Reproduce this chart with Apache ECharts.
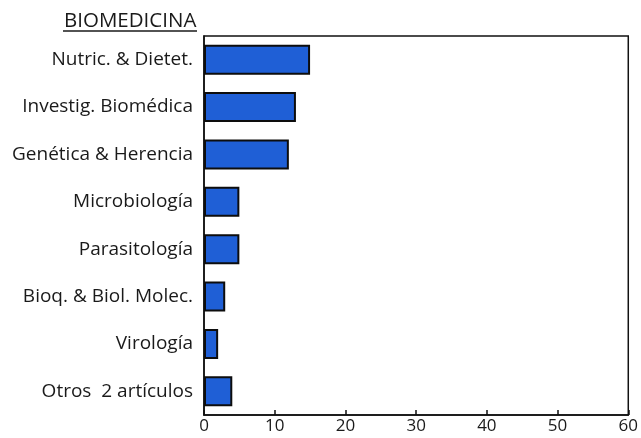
<!DOCTYPE html>
<html>
<head>
<meta charset="utf-8">
<script src="https://cdn.jsdelivr.net/npm/echarts@6/dist/echarts.min.js"></script>
<style>html,body{margin:0;padding:0;background:#fff}#c{width:641px;height:438px}</style>
</head>
<body>
<div id="c"></div>
<script>
const categories = ["Nutric. & Dietet.", "Investig. Biomédica", "Genética & Herencia", "Microbiología", "Parasitología", "Bioq. & Biol. Molec.", "Virología", "Otros  2 artículos"];
const values = [15, 13, 12, 5, 5, 3, 2, 4];
const xTicks = [0, 10, 20, 30, 40, 50, 60];
const titleText = "BIOMEDICINA";

const chart = echarts.init(document.getElementById('c'));
const font = "'Open Sans', 'DejaVu Sans', sans-serif";
chart.setOption({
  animation: false,
  title: {
    text: titleText, left: 59, top: 6,
    textStyle: {fontFamily: font, fontSize: 20.5, fontWeight: 'normal', color: '#1a1a1a'}
  },
  graphic: [{
    type: 'line', shape: {x1: 63, y1: 31, x2: 197, y2: 31},
    style: {stroke: '#1a1a1a', lineWidth: 1.5}
  }],
  grid: {left: 204, right: 5, top: 36, bottom: 23, show: true, borderColor: '#111', borderWidth: 1.5},
  xAxis: {
    type: 'value', min: xTicks[0], max: xTicks[xTicks.length - 1], interval: 10,
    axisLine: {show: true, lineStyle: {color: '#111', width: 1.5}},
    axisTick: {show: true, inside: true, length: 5, lineStyle: {color: '#111', width: 1.5}},
    splitLine: {show: false},
    axisLabel: {fontFamily: font, fontSize: 17, color: '#1a1a1a', margin: 3}
  },
  yAxis: {
    type: 'category', data: categories, inverse: true,
    axisLine: {show: true, lineStyle: {color: '#111', width: 1.5}},
    axisTick: {show: false},
    axisLabel: {fontFamily: font, fontSize: 19, color: '#1a1a1a', margin: 11}
  },
  series: [{
    type: 'bar', data: values, barWidth: 30,
    itemStyle: {color: '#1f5fd6', borderColor: '#0d0d0d', borderWidth: 2}
  }]
});
</script>
</body>
</html>
